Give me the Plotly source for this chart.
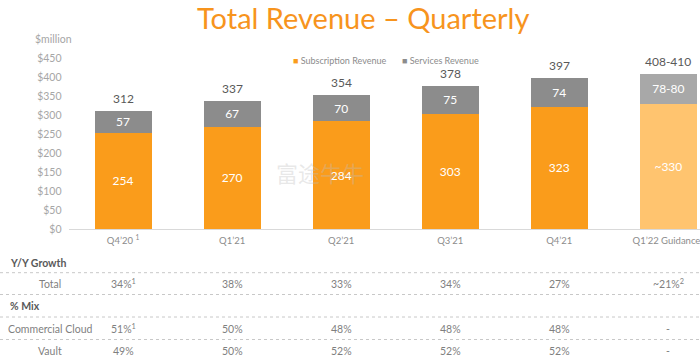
import plotly.graph_objects as go

# ---- data ----
categories = ["Q4’20 <sup>1</sup>", "Q1’21", "Q2’21", "Q3’21", "Q4’21", "Q1’22 Guidance<sup>2</sup>"]
subscription = [254, 270, 284, 303, 323, 330]
services = [57, 67, 70, 75, 74, 79]
subscription_labels = ["254", "270", "284", "303", "323", "~330"]
services_labels = ["57", "67", "70", "75", "74", "78-80"]
total_values = [312, 337, 354, 378, 397, 409]
total_labels = ["312", "337", "354", "378", "397", "408-410"]
y_ticks = [0, 50, 100, 150, 200, 250, 300, 350, 400, 450]
y_tick_labels = ["$" + str(v) for v in y_ticks]

growth_total = ["34%<sup>1</sup>", "38%", "33%", "34%", "27%", "~21%<sup>2</sup>"]
mix_commercial = ["51%<sup>1</sup>", "50%", "48%", "48%", "48%", "-"]
mix_vault = ["49%", "50%", "52%", "52%", "52%", "-"]

W, H = 700, 362
FONT = "Lato, Open Sans, sans-serif"
ORANGE = "#FA9C1B"
GRAY = "#8C8C8C"
sub_colors = [ORANGE] * 5 + ["#FFC46F"]
svc_colors = [GRAY] * 5 + ["#A8A8A8"]

def py(p):  # pixel y -> paper y
    return (H - p) / H

fig = go.Figure()
fig.add_trace(go.Bar(
    x=categories, y=subscription, name="Subscription Revenue",
    marker=dict(color=sub_colors, line=dict(width=0)),
    text=subscription_labels, texttemplate="%{text}", textposition="inside", textangle=0,
    insidetextanchor="middle", textfont=dict(color="white", size=12, family=FONT),
    hoverinfo="skip", showlegend=False,
))
fig.add_trace(go.Bar(
    x=categories, y=services, name="Services Revenue",
    marker=dict(color=svc_colors, line=dict(width=0)),
    text=services_labels, texttemplate="%{text}", textposition="inside", textangle=0,
    insidetextanchor="middle", textfont=dict(color="white", size=12, family=FONT),
    hoverinfo="skip", showlegend=False,
))

annotations = []
# totals above bars
for c, v, t in zip(categories, total_values, total_labels):
    annotations.append(dict(text=t, x=c, y=v, xref="x", yref="y", showarrow=False,
                            xanchor="center", yanchor="bottom", yshift=3,
                            font=dict(size=12, color="#595959", family=FONT)))
# title
annotations.append(dict(text="Total Revenue – Quarterly", x=363 / W, y=py(18), xref="paper", yref="paper",
                        showarrow=False, font=dict(size=29, color="#F7941D", family=FONT),
                        xanchor="center", yanchor="middle"))
annotations.append(dict(text="$million", x=33 / W, y=py(39), xref="paper", yref="paper",
                        showarrow=False, font=dict(size=10.5, color="#A6A6A6", family=FONT),
                        xanchor="left", yanchor="middle"))
# legend (drawn as text)
annotations.append(dict(text=f"<span style='color:{ORANGE}'>■</span> Subscription Revenue", x=291 / W, y=py(60),
                        xref="paper", yref="paper", showarrow=False,
                        font=dict(size=9, color="#8C8C8C", family=FONT), xanchor="left", yanchor="middle"))
annotations.append(dict(text=f"<span style='color:{GRAY}'>■</span> Services Revenue", x=400 / W, y=py(60),
                        xref="paper", yref="paper", showarrow=False,
                        font=dict(size=9, color="#8C8C8C", family=FONT), xanchor="left", yanchor="middle"))
# watermark
annotations.append(dict(text="富途牛牛", x=320 / W, y=py(172), xref="paper", yref="paper",
                        showarrow=False, font=dict(size=22, color="rgba(190,190,190,0.35)",
                                                   family="Noto Sans CJK SC"),
                        xanchor="center", yanchor="middle"))

# table
row_y = {"hdr1": 262.5, "total": 283.5, "hdr2": 305.5, "cc": 328.5, "vault": 350.5}
TABLE_GRAY = "#7F7F7F"
annotations.append(dict(text="<b>Y/Y Growth</b>", x=8 / W, y=py(row_y["hdr1"]), xref="paper", yref="paper",
                        showarrow=False, font=dict(size=10.5, color="#595959", family=FONT),
                        xanchor="left", yanchor="middle"))
annotations.append(dict(text="<b>% Mix</b>", x=8 / W, y=py(row_y["hdr2"]), xref="paper", yref="paper",
                        showarrow=False, font=dict(size=10.5, color="#595959", family=FONT),
                        xanchor="left", yanchor="middle"))
for lbl, key in [("Total", "total"), ("Commercial Cloud", "cc"), ("Vault", "vault")]:
    annotations.append(dict(text=lbl, x=50 / W, y=py(row_y[key]), xref="paper", yref="paper",
                            showarrow=False, font=dict(size=10.5, color=TABLE_GRAY, family=FONT),
                            xanchor="center", yanchor="middle"))
for vals, key in [(growth_total, "total"), (mix_commercial, "cc"), (mix_vault, "vault")]:
    for c, v in zip(categories, vals):
        annotations.append(dict(text=v, x=c, y=py(row_y[key]), xref="x", yref="paper",
                                showarrow=False, font=dict(size=10.5, color=TABLE_GRAY, family=FONT),
                                xanchor="center", yanchor="middle"))

shapes = []
for ly in [272.7, 294.5, 317, 339.5]:
    shapes.append(dict(type="line", xref="paper", yref="paper", x0=0, x1=1, y0=py(ly), y1=py(ly),
                       line=dict(color="#C8C8C8", width=1, dash="dot")))

fig.update_layout(
    width=W, height=H, margin=dict(l=0, r=0, t=0, b=0),
    paper_bgcolor="white", plot_bgcolor="white",
    barmode="stack", bargap=0.477,
    font=dict(family=FONT),
    showlegend=False,
    annotations=annotations, shapes=shapes,
)
fig.update_xaxes(domain=[68.5 / W, 1], range=[-0.5, 5.29], type="category",
                 showgrid=False, showline=True, linecolor="#D9D9D9", linewidth=1,
                 ticks="", tickfont=dict(size=9.5, color="#8C8C8C", family=FONT),
                 ticklabelstandoff=3, automargin=False, fixedrange=True)
fig.update_yaxes(domain=[py(229), py(58.4)], range=[0, 450], tickvals=y_ticks, ticktext=y_tick_labels,
                 showgrid=False, zeroline=False, showline=False, ticks="",
                 tickfont=dict(size=10.5, color="#A6A6A6", family=FONT),
                 ticklabelstandoff=6, automargin=False, fixedrange=True)

fig.write_html("out.html", config={"displayModeBar": False},
               post_script="document.body.style.margin='0';")
